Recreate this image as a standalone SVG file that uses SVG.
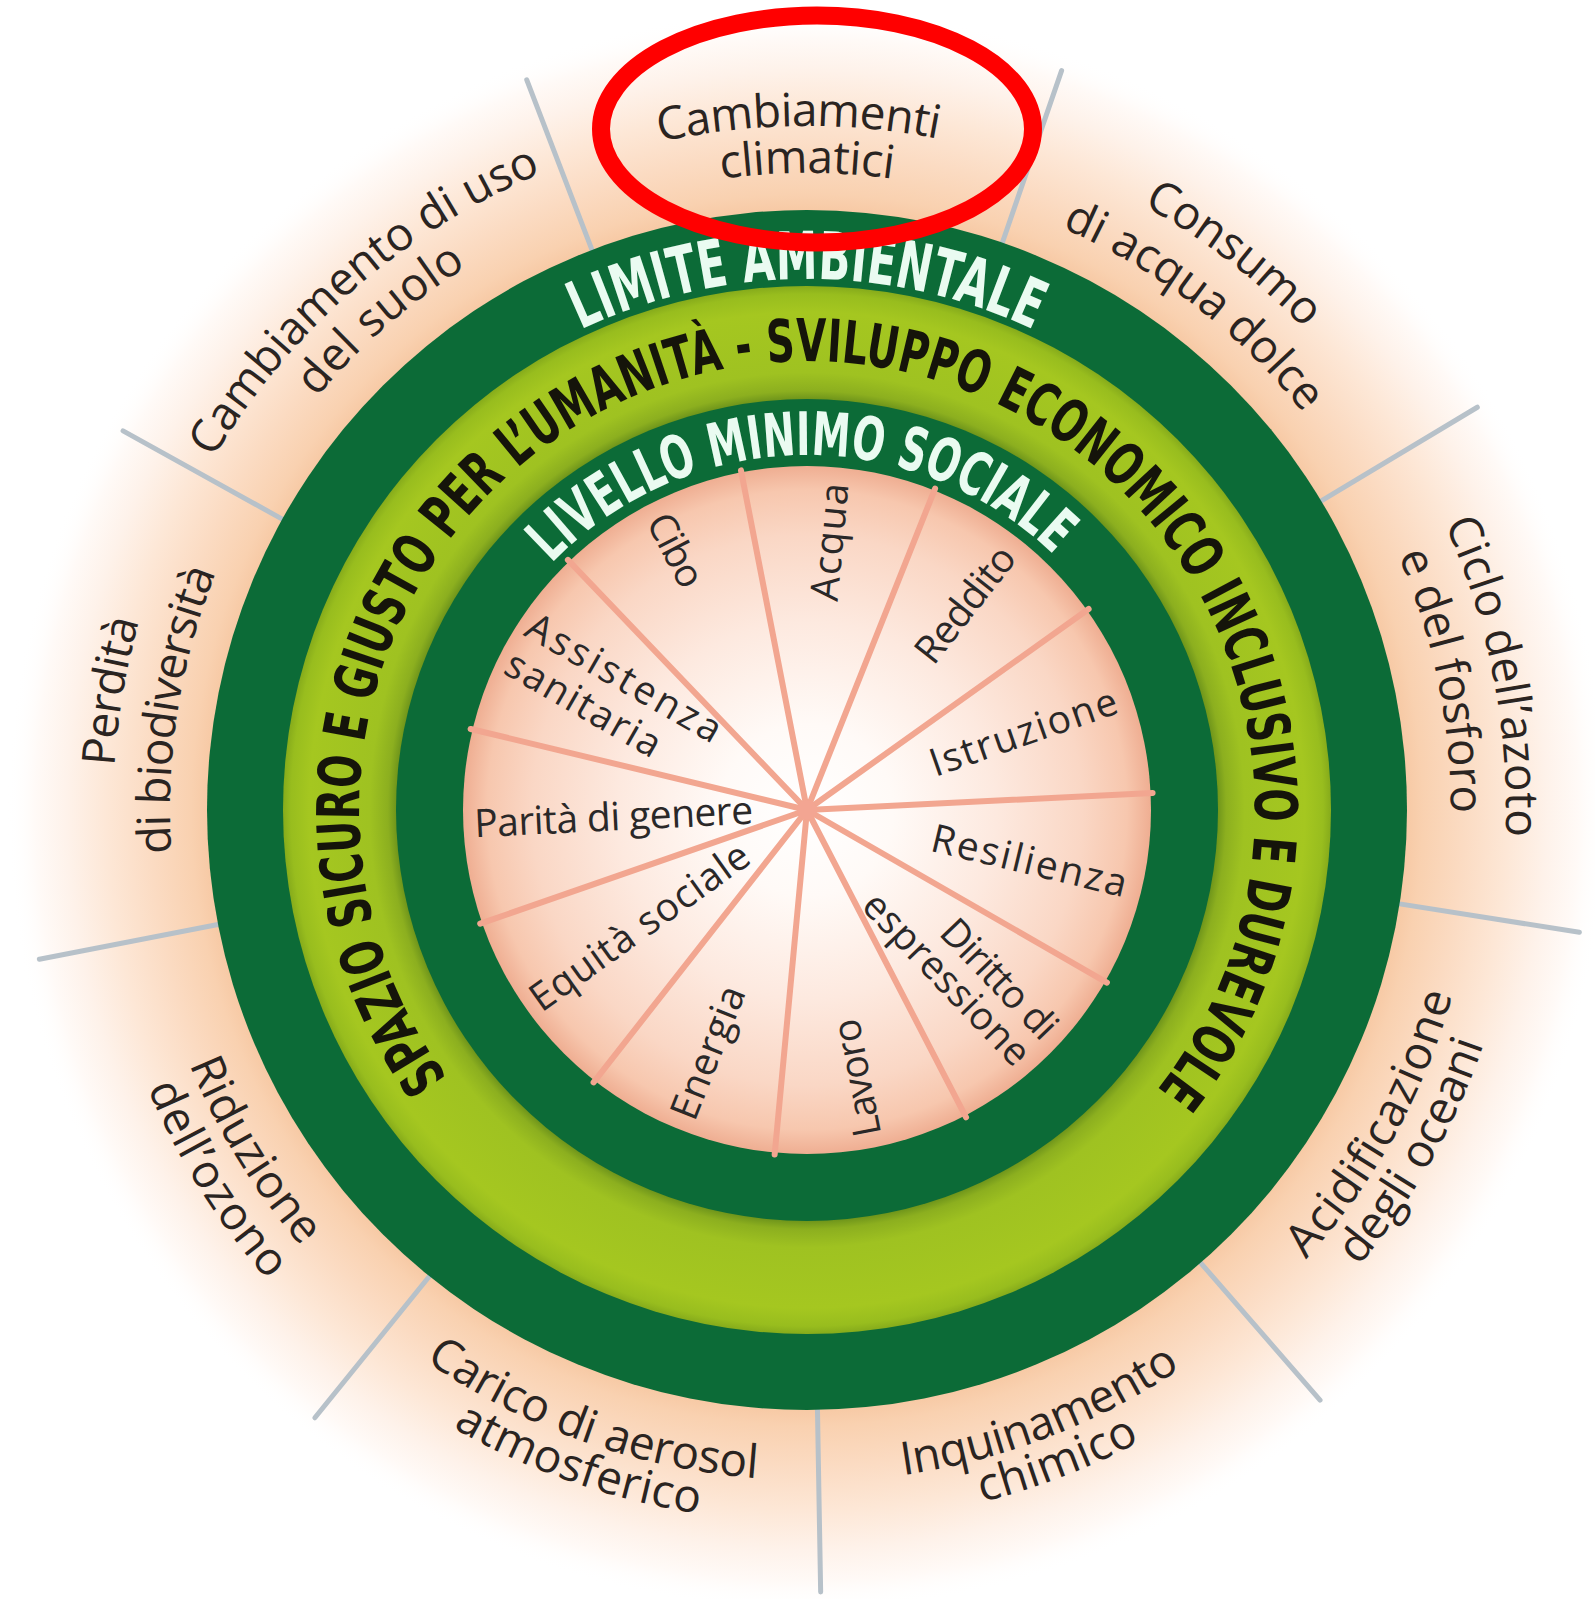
<svg xmlns="http://www.w3.org/2000/svg" xmlns:xlink="http://www.w3.org/1999/xlink" width="1595" height="1599" viewBox="0 0 1595 1599">
<style>
.ringw{font-family:"DejaVu Sans Condensed","DejaVu Sans",sans-serif;font-weight:bold;fill:#eafbf1;}
.ringk{font-family:"DejaVu Sans Condensed","DejaVu Sans",sans-serif;font-weight:bold;fill:#15140a;}
.outer{font-family:"Open Sans","Noto Sans",sans-serif;font-size:46px;fill:#2a2421;}
.inner{font-family:"Open Sans","Noto Sans",sans-serif;font-size:39px;fill:#2a2828;}
.div{stroke:#b7c1c9;stroke-width:5;stroke-linecap:round;fill:none;}
.spoke{stroke:#f2a690;stroke-width:6;stroke-linecap:round;fill:none;}
</style>
<defs>
<radialGradient id="halo" gradientUnits="userSpaceOnUse" cx="807" cy="810" r="800">
<stop offset="0.74" stop-color="#f6c6a0"/>
<stop offset="0.77" stop-color="#f9d1b0"/>
<stop offset="0.82" stop-color="#fbdbc2"/>
<stop offset="0.875" stop-color="#fde7d6"/>
<stop offset="0.925" stop-color="#fef2ea"/>
<stop offset="0.965" stop-color="#fffaf7"/>
<stop offset="1" stop-color="#ffffff" stop-opacity="0"/>
</radialGradient>
<radialGradient id="lg" gradientUnits="userSpaceOnUse" cx="807" cy="810" r="524">
<stop offset="0.784" stop-color="#6f951b"/>
<stop offset="0.80" stop-color="#8caf1f"/>
<stop offset="0.835" stop-color="#9fc221"/>
<stop offset="0.95" stop-color="#a5c720"/>
<stop offset="0.985" stop-color="#98bd1e"/>
<stop offset="1" stop-color="#86ab1b"/>
</radialGradient>
<radialGradient id="pale" gradientUnits="userSpaceOnUse" cx="807" cy="810" r="344">
<stop offset="0" stop-color="#ffffff"/>
<stop offset="0.25" stop-color="#fffaf7"/>
<stop offset="0.55" stop-color="#fde9df"/>
<stop offset="0.8" stop-color="#fad7c5"/>
<stop offset="0.93" stop-color="#f7c7ae"/>
<stop offset="1" stop-color="#efae92"/>
</radialGradient>
<path id="pLim" d="M 807 1341 A 531 531 0 0 1 807 279 A 531 531 0 0 1 807 1341"/>
<path id="pSpa" d="M 799.16 1258.93 A 449 449 0 0 1 814.84 361.07 A 449 449 0 0 1 799.16 1258.93"/>
<path id="pLiv" d="M 813.2 1164.95 A 355 355 0 0 1 800.8 455.05 A 355 355 0 0 1 813.2 1164.95"/>
<path id="pA" d="M 815.36 1493.95 A 684 684 0 0 1 798.64 126.05 A 684 684 0 0 1 815.36 1493.95"/>
<path id="pB" d="M 807 1447 A 637 637 0 0 1 807 173 A 637 637 0 0 1 807 1447"/>
<path id="pC" d="M 1259.68 1330.75 A 690 690 0 0 1 354.32 289.25 A 690 690 0 0 1 1259.68 1330.75"/>
<path id="pD" d="M 1227.53 1293.77 A 641 641 0 0 1 386.47 326.23 A 641 641 0 0 1 1227.53 1293.77"/>
<path id="pE" d="M 385.74 1359 A 692 692 0 0 1 1228.26 261 A 692 692 0 0 1 385.74 1359"/>
<path id="pF" d="M 419.83 1314.57 A 636 636 0 0 1 1194.17 305.43 A 636 636 0 0 1 419.83 1314.57"/>
<path id="pG" d="M 120.84 943.38 A 699 699 0 0 1 1493.16 676.62 A 699 699 0 0 1 120.84 943.38"/>
<path id="pH" d="M 175.93 938.39 A 644 644 0 0 1 1438.07 681.61 A 644 644 0 0 1 175.93 938.39"/>
<path id="pI" d="M 1491.08 926.93 A 694 694 0 0 1 122.92 693.07 A 694 694 0 0 1 1491.08 926.93"/>
<path id="pJ" d="M 1436.16 909.65 A 637 637 0 0 1 177.84 710.35 A 637 637 0 0 1 1436.16 909.65"/>
<path id="pK" d="M 219.26 484.21 A 672 672 0 0 0 1394.74 1135.79 A 672 672 0 0 0 219.26 484.21"/>
<path id="pL" d="M 182.81 459.17 A 716 716 0 0 0 1431.19 1160.83 A 716 716 0 0 0 182.81 459.17"/>
<path id="pM" d="M 566.18 182.63 A 672 672 0 0 0 1047.82 1437.37 A 672 672 0 0 0 566.18 182.63"/>
<path id="pN" d="M 551.12 143.42 A 714 714 0 0 0 1062.88 1476.58 A 714 714 0 0 0 551.12 143.42"/>
<path id="pO" d="M 1030.65 178.43 A 670 670 0 0 0 583.35 1441.57 A 670 670 0 0 0 1030.65 178.43"/>
<path id="pP" d="M 1042.32 138.01 A 712 712 0 0 0 571.68 1481.99 A 712 712 0 0 0 1042.32 138.01"/>
<path id="pQ" d="M 1375.96 459.97 A 668 668 0 0 0 238.04 1160.03 A 668 668 0 0 0 1375.96 459.97"/>
<path id="pR" d="M 1414.2 430.58 A 716 716 0 0 0 199.8 1189.42 A 716 716 0 0 0 1414.2 430.58"/>
</defs>
<rect width="1595" height="1599" fill="#ffffff"/>
<g id="halo-ring">
<circle cx="807" cy="810" r="800" fill="url(#halo)"/>
</g>
<g id="connectors">
<line class="div" x1="1002.34" y1="242.69" x2="1061.6" y2="70.6"/>
<line class="div" x1="1321.3" y1="500.98" x2="1477.31" y2="407.24"/>
<line class="div" x1="1399.61" y1="903.86" x2="1579.37" y2="932.33"/>
<line class="div" x1="1200.64" y1="1262.83" x2="1320.04" y2="1400.18"/>
<line class="div" x1="817.47" y1="1409.91" x2="820.65" y2="1591.88"/>
<line class="div" x1="429.41" y1="1276.29" x2="314.87" y2="1417.73"/>
<line class="div" x1="218.02" y1="924.49" x2="39.37" y2="959.21"/>
<line class="div" x1="282.23" y1="519.11" x2="123.05" y2="430.88"/>
<line class="div" x1="591.98" y1="249.85" x2="526.75" y2="79.94"/>
</g>
<g id="rings">
<circle cx="807" cy="810" r="600" fill="#0c6b37"/>
<circle cx="807" cy="810" r="524" fill="url(#lg)"/>
<circle cx="807" cy="810" r="411" fill="#0c6b37"/>
<circle cx="807" cy="810" r="344" fill="url(#pale)"/>
</g>
<g id="spokes">
<line class="spoke" x1="807" y1="810" x2="740.98" y2="470.36"/>
<line class="spoke" x1="807" y1="810" x2="935.08" y2="488.58"/>
<line class="spoke" x1="807" y1="810" x2="1088.63" y2="609"/>
<line class="spoke" x1="807" y1="810" x2="1152.58" y2="792.99"/>
<line class="spoke" x1="807" y1="810" x2="1106.92" y2="982.53"/>
<line class="spoke" x1="807" y1="810" x2="966.07" y2="1117.27"/>
<line class="spoke" x1="807" y1="810" x2="774.65" y2="1154.48"/>
<line class="spoke" x1="807" y1="810" x2="593.58" y2="1082.34"/>
<line class="spoke" x1="807" y1="810" x2="480.21" y2="923.69"/>
<line class="spoke" x1="807" y1="810" x2="470.63" y2="728.96"/>
<line class="spoke" x1="807" y1="810" x2="567.88" y2="559.92"/>
<circle cx="807" cy="810" r="10" fill="#f3a592"/>
</g>
<g id="ring-titles">
<text class="ringw" font-size="66" text-anchor="middle"><textPath href="#pLim" startOffset="50%" textLength="468" lengthAdjust="spacingAndGlyphs">LIMITE AMBIENTALE</textPath></text>
<text class="ringk" font-size="59" text-anchor="middle"><textPath href="#pSpa" startOffset="50%" textLength="1997" lengthAdjust="spacingAndGlyphs">SPAZIO SICURO E GIUSTO PER L’UMANITÀ - SVILUPPO ECONOMICO INCLUSIVO E DUREVOLE</textPath></text>
<text class="ringw" font-size="60" text-anchor="middle"><textPath href="#pLiv" startOffset="50%" textLength="558" lengthAdjust="spacingAndGlyphs">LIVELLO MINIMO SOCIALE</textPath></text>
</g>
<g id="env-cambiamenti-climatici">
<text class="outer" text-anchor="middle"><textPath href="#pA" startOffset="50%" textLength="280">Cambiamenti</textPath></text>
<text class="outer" text-anchor="middle"><textPath href="#pB" startOffset="50%" textLength="172">climatici</textPath></text>
</g>
<g id="env-uso-suolo">
<text class="outer" text-anchor="middle"><textPath href="#pC" startOffset="50%" textLength="442">Cambiamento di uso</textPath></text>
<text class="outer" text-anchor="middle"><textPath href="#pD" startOffset="50%" textLength="200">del suolo</textPath></text>
</g>
<g id="env-acqua-dolce">
<text class="outer" text-anchor="middle"><textPath href="#pE" startOffset="50%" textLength="204">Consumo</textPath></text>
<text class="outer" text-anchor="middle"><textPath href="#pF" startOffset="50%" textLength="308">di acqua dolce</textPath></text>
</g>
<g id="env-azoto-fosforo">
<text class="outer" text-anchor="middle"><textPath href="#pG" startOffset="50%" textLength="322">Ciclo dell’azoto</textPath></text>
<text class="outer" text-anchor="middle"><textPath href="#pH" startOffset="50%" textLength="265">e del fosforo</textPath></text>
</g>
<g id="env-acidificazione">
<text class="outer" text-anchor="middle"><textPath href="#pK" startOffset="50%" textLength="305">Acidificazione</textPath></text>
<text class="outer" text-anchor="middle"><textPath href="#pL" startOffset="50%" textLength="256">degli oceani</textPath></text>
</g>
<g id="env-inquinamento">
<text class="outer" text-anchor="middle"><textPath href="#pM" startOffset="50%" textLength="300">Inquinamento</textPath></text>
<text class="outer" text-anchor="middle"><textPath href="#pN" startOffset="50%" textLength="170">chimico</textPath></text>
</g>
<g id="env-aerosol">
<text class="outer" text-anchor="middle"><textPath href="#pO" startOffset="50%" textLength="356">Carico di aerosol</textPath></text>
<text class="outer" text-anchor="middle"><textPath href="#pP" startOffset="50%" textLength="262">atmosferico</textPath></text>
</g>
<g id="env-ozono">
<text class="outer" text-anchor="middle"><textPath href="#pQ" startOffset="50%" textLength="215">Riduzione</textPath></text>
<text class="outer" text-anchor="middle"><textPath href="#pR" startOffset="50%" textLength="228">dell’ozono</textPath></text>
</g>
<g id="env-biodiversita">
<text class="outer" text-anchor="middle"><textPath href="#pI" startOffset="50%" textLength="148">Perdità</textPath></text>
<text class="outer" text-anchor="middle"><textPath href="#pJ" startOffset="50%" textLength="287">di biodiversità</textPath></text>
</g>
<g id="soc-acqua"><text class="inner" transform="translate(807 810) rotate(-84.64)" x="328" y="11" text-anchor="end" textLength="118">Acqua</text></g>
<g id="soc-reddito"><text class="inner" transform="translate(807 810) rotate(-51.9)" x="328" y="11" text-anchor="end" textLength="137">Reddito</text></g>
<g id="soc-istruzione"><text class="inner" transform="translate(807 810) rotate(-19.2)" x="328" y="11" text-anchor="end" textLength="196">Istruzione</text></g>
<g id="soc-resilienza"><text class="inner" transform="translate(807 810) rotate(13.5)" x="328" y="11" text-anchor="end" textLength="200">Resilienza</text></g>
<g id="soc-espressione">
<text class="inner" transform="translate(807 810) rotate(46.3)" x="330" y="-9" text-anchor="end" textLength="150">Diritto di</text>
<text class="inner" transform="translate(807 810) rotate(46.3)" x="330" y="29" text-anchor="end" textLength="223">espressione</text>
</g>
<g id="soc-lavoro"><text class="inner" transform="translate(807 810) rotate(259)" x="-332" y="11" textLength="119">Lavoro</text></g>
<g id="soc-energia"><text class="inner" transform="translate(807 810) rotate(291.7)" x="-332" y="11" textLength="140">Energia</text></g>
<g id="soc-equita"><text class="inner" transform="translate(807 810) rotate(324.5)" x="-334" y="11" textLength="260">Equità sociale</text></g>
<g id="soc-parita"><text class="inner" transform="translate(807 810) rotate(357.2)" x="-333" y="11" textLength="279">Parità di genere</text></g>
<g id="soc-sanita">
<text class="inner" transform="translate(807 810) rotate(29.9)" x="-334" y="-10" textLength="219">Assistenza</text>
<text class="inner" transform="translate(807 810) rotate(29.9)" x="-333" y="33" textLength="173">sanitaria</text>
</g>
<g id="soc-cibo"><text class="inner" transform="translate(807 810) rotate(62.7)" x="-330" y="11" textLength="78">Cibo</text></g>
<g id="highlight">
<ellipse cx="817" cy="129" rx="216" ry="113.5" fill="none" stroke="#ff0000" stroke-width="18"/>
</g>
</svg>
